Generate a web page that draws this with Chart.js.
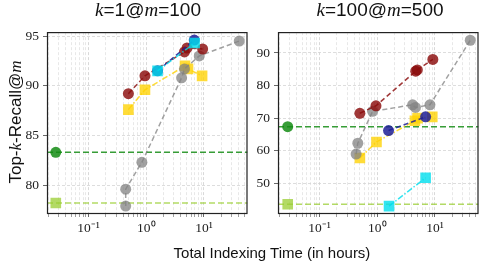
<!DOCTYPE html>
<html>
<head>
<meta charset="utf-8">
<script src="https://cdn.jsdelivr.net/npm/chart.js@4"></script>
<style>
  body { margin: 0; background: #fff; width: 487px; height: 269px; position: relative; overflow: hidden; }
  canvas { position: absolute; }
  .txt { position: absolute; color: #111; font-family: "Liberation Sans", sans-serif; white-space: nowrap; text-align: center; }
  .title { font-size: 19px; top: -1px; width: 200px; }
  .mi { font-family: "Liberation Serif", serif; font-style: italic; }
</style>
</head>
<body>
<canvas id="left" width="255" height="225" style="left:0px;top:20px;width:255px;height:225px"></canvas>
<canvas id="right" width="255" height="225" style="left:231px;top:20px;width:255px;height:225px"></canvas>
<div class="txt title" style="left:48px"><span class="mi">k</span>=1@<span class="mi">m</span>=100</div>
<div class="txt title" style="left:280px"><span class="mi">k</span>=100@<span class="mi">m</span>=500</div>
<div class="txt" style="font-size:17px;left:-64px;top:112px;width:160px;height:20px;line-height:20px;transform:rotate(-90deg)">Top-<span class="mi">k</span>-Recall@<span class="mi">m</span></div>
<div class="txt" style="font-size:15px;left:122px;top:244px;width:300px">Total Indexing Time (in hours)</div>
<script>
// Axis limits (hours on a log axis, recall in %)
const X_MIN = 0.019, X_MAX = 57;
const X_LABELS = { '-1': '10\u207B\u00B9', '0': '10\u2070', '1': '10\u00B9' };

// k=1@m=100
const L_Y_MIN = 77.1, L_Y_MAX = 95.4;
const L_Y_TICKS = [80, 85, 90, 95];
const L_RED_T = [0.49, 0.95, 4.6, 5.1, 9.5];
const L_RED_R = [89.2, 91.0, 93.4, 93.8, 93.7];
const L_NAVY_T = [1.57, 6.8];
const L_NAVY_R = [91.5, 94.6];
const L_CYAN_T = [1.57, 6.9];
const L_CYAN_R = [91.5, 94.3];
const L_YELLOW_T = [0.49, 0.95, 4.7, 5.3, 9.3];
const L_YELLOW_R = [87.6, 89.6, 92.0, 91.7, 91.0];
const L_GRAY_T = [0.44, 0.44, 0.84, 4.1, 4.6, 8.3, 41];
const L_GRAY_R = [77.9, 79.6, 82.3, 90.8, 91.7, 93.0, 94.5];
const L_GREEN_T = 0.027, L_GREEN_R = 83.3;
const L_LIME_T = 0.027, L_LIME_R = 78.2;

// k=100@m=500
const R_Y_MIN = 40.6, R_Y_MAX = 96.4;
const R_Y_TICKS = [50, 60, 70, 80, 90];
const R_RED_T = [0.50, 0.95, 4.65, 4.95, 9.2];
const R_RED_R = [71.5, 73.8, 84.4, 84.8, 88.0];
const R_NAVY_T = [1.57, 6.9];
const R_NAVY_R = [66.2, 70.4];
const R_CYAN_T = [1.6, 6.9];
const R_CYAN_R = [43.0, 51.7];
const R_YELLOW_T = [0.50, 0.97, 4.5, 5.0, 9.0];
const R_YELLOW_R = [57.8, 62.7, 69.2, 70.0, 70.4];
const R_GRAY_T = [0.43, 0.46, 0.83, 4.1, 4.6, 8.2, 41];
const R_GRAY_R = [59.0, 62.3, 72.1, 74.1, 73.3, 74.1, 93.9];
const R_GREEN_T = 0.028, R_GREEN_R = 67.4;
const R_LIME_T = 0.028, R_LIME_R = 43.6;

// Colours
const RED = 'rgba(139,12,12,0.82)';
const NAVY = 'rgba(30,30,150,0.85)';
const CYAN = 'rgba(0,222,238,0.8)';
const YELLOW = 'rgba(255,210,0,0.78)';
const GRAY = 'rgba(130,130,130,0.75)';
const GREEN = 'rgba(20,140,20,0.85)';
const LIME = 'rgba(154,205,50,0.75)';

const DASH = [5, 3];
const DASHDOT = [6, 2, 1.5, 2];

// all minor log ticks between the limits
function logTicks() {
    const out = [];
    for (let e = -2; e <= 1; e++) {
        for (let m = 1; m <= 9; m++) {
            const v = m * Math.pow(10, e);
            if (v >= X_MIN && v <= X_MAX) out.push(v);
        }
    }
    return out;
}

function isMajor(v) {
    const l = Math.log10(v);
    return Math.abs(l - Math.round(l)) < 1e-9;
}

const zip = (t, r) => t.map((x, i) => ({ x: x, y: r[i] }));

function series(t, r, color, dash, style, order) {
    return {
        data: zip(t, r),
        borderColor: color,
        backgroundColor: color,
        borderWidth: 1.5,
        borderDash: dash,
        pointStyle: style,
        pointRadius: style === 'rect' ? 7.5 : 5.5,
        pointBorderWidth: 0,
        order: order
    };
}

// horizontal reference line with a single marker at the left
function refLine(t, r, color, style, order) {
    return {
        data: [{ x: X_MIN, y: r }, { x: t, y: r }, { x: X_MAX, y: r }],
        borderColor: color,
        backgroundColor: color,
        borderWidth: 1.5,
        borderDash: [6, 3],
        pointStyle: style,
        pointRadius: [0, style === 'rect' ? 7.5 : 5.5, 0],
        pointBorderWidth: 0,
        order: order
    };
}

const frame = {
    id: 'frame',
    afterDraw(chart) {
        const a = chart.chartArea, ctx = chart.ctx;
        ctx.save();
        ctx.strokeStyle = '#222';
        ctx.lineWidth = 1.2;
        ctx.strokeRect(a.left + 0.5, a.top + 0.5, a.right - a.left - 1, a.bottom - a.top - 1);
        ctx.restore();
    }
};

function makePanel(id, yMin, yMax, yTicks, datasets) {
    return new Chart(document.getElementById(id), {
        type: 'line',
        data: { datasets: datasets },
        options: {
            responsive: false,
            animation: false,
            layout: { padding: { top: 5, right: 6, left: 0, bottom: 0 } },
            plugins: { legend: { display: false }, tooltip: { enabled: false } },
            scales: {
                x: {
                    type: 'logarithmic',
                    min: X_MIN,
                    max: X_MAX,
                    afterBuildTicks: s => { s.ticks = logTicks().map(v => ({ value: v })); },
                    afterFit: s => { s.height = 31; },
                    ticks: {
                        autoSkip: false,
                        maxRotation: 0,
                        padding: 3,
                        color: '#222',
                        font: { family: 'Liberation Serif', size: 13.5 },
                        callback: v => isMajor(v) ? X_LABELS[String(Math.round(Math.log10(v)))] : ''
                    },
                    grid: {
                        color: c => (c.tick && isMajor(c.tick.value)) ? '#cfcfcf' : '#e2e2e2',
                        lineWidth: 0.8,
                        tickLength: 3,
                        tickColor: c => (c.tick && isMajor(c.tick.value)) ? '#444' : '#888'
                    },
                    border: { display: false, dash: [3, 2] }
                },
                y: {
                    min: yMin,
                    max: yMax,
                    afterBuildTicks: s => { s.ticks = yTicks.map(v => ({ value: v })); },
                    afterFit: s => { s.width = 47; },
                    ticks: {
                        padding: 4,
                        color: '#222',
                        font: { family: 'Liberation Serif', size: 13.5 }
                    },
                    grid: { color: '#d4d4d4', lineWidth: 0.8, tickLength: 4, tickColor: '#444' },
                    border: { display: false, dash: [3, 2] }
                }
            }
        },
        plugins: [frame]
    });
}

makePanel('left', L_Y_MIN, L_Y_MAX, L_Y_TICKS, [
    series(L_CYAN_T, L_CYAN_R, CYAN, DASHDOT, 'rect', 1),
    series(L_NAVY_T, L_NAVY_R, NAVY, DASH, 'circle', 2),
    series(L_RED_T, L_RED_R, RED, DASH, 'circle', 3),
    series(L_GRAY_T, L_GRAY_R, GRAY, DASH, 'circle', 4),
    series(L_YELLOW_T, L_YELLOW_R, YELLOW, DASHDOT, 'rect', 5),
    refLine(L_GREEN_T, L_GREEN_R, GREEN, 'circle', 6),
    refLine(L_LIME_T, L_LIME_R, LIME, 'rect', 7)
]);

makePanel('right', R_Y_MIN, R_Y_MAX, R_Y_TICKS, [
    series(R_CYAN_T, R_CYAN_R, CYAN, DASHDOT, 'rect', 1),
    series(R_NAVY_T, R_NAVY_R, NAVY, DASH, 'circle', 2),
    series(R_RED_T, R_RED_R, RED, DASH, 'circle', 3),
    series(R_GRAY_T, R_GRAY_R, GRAY, DASH, 'circle', 4),
    series(R_YELLOW_T, R_YELLOW_R, YELLOW, DASHDOT, 'rect', 5),
    refLine(R_GREEN_T, R_GREEN_R, GREEN, 'circle', 6),
    refLine(R_LIME_T, R_LIME_R, LIME, 'rect', 7)
]);
</script>
</body>
</html>
